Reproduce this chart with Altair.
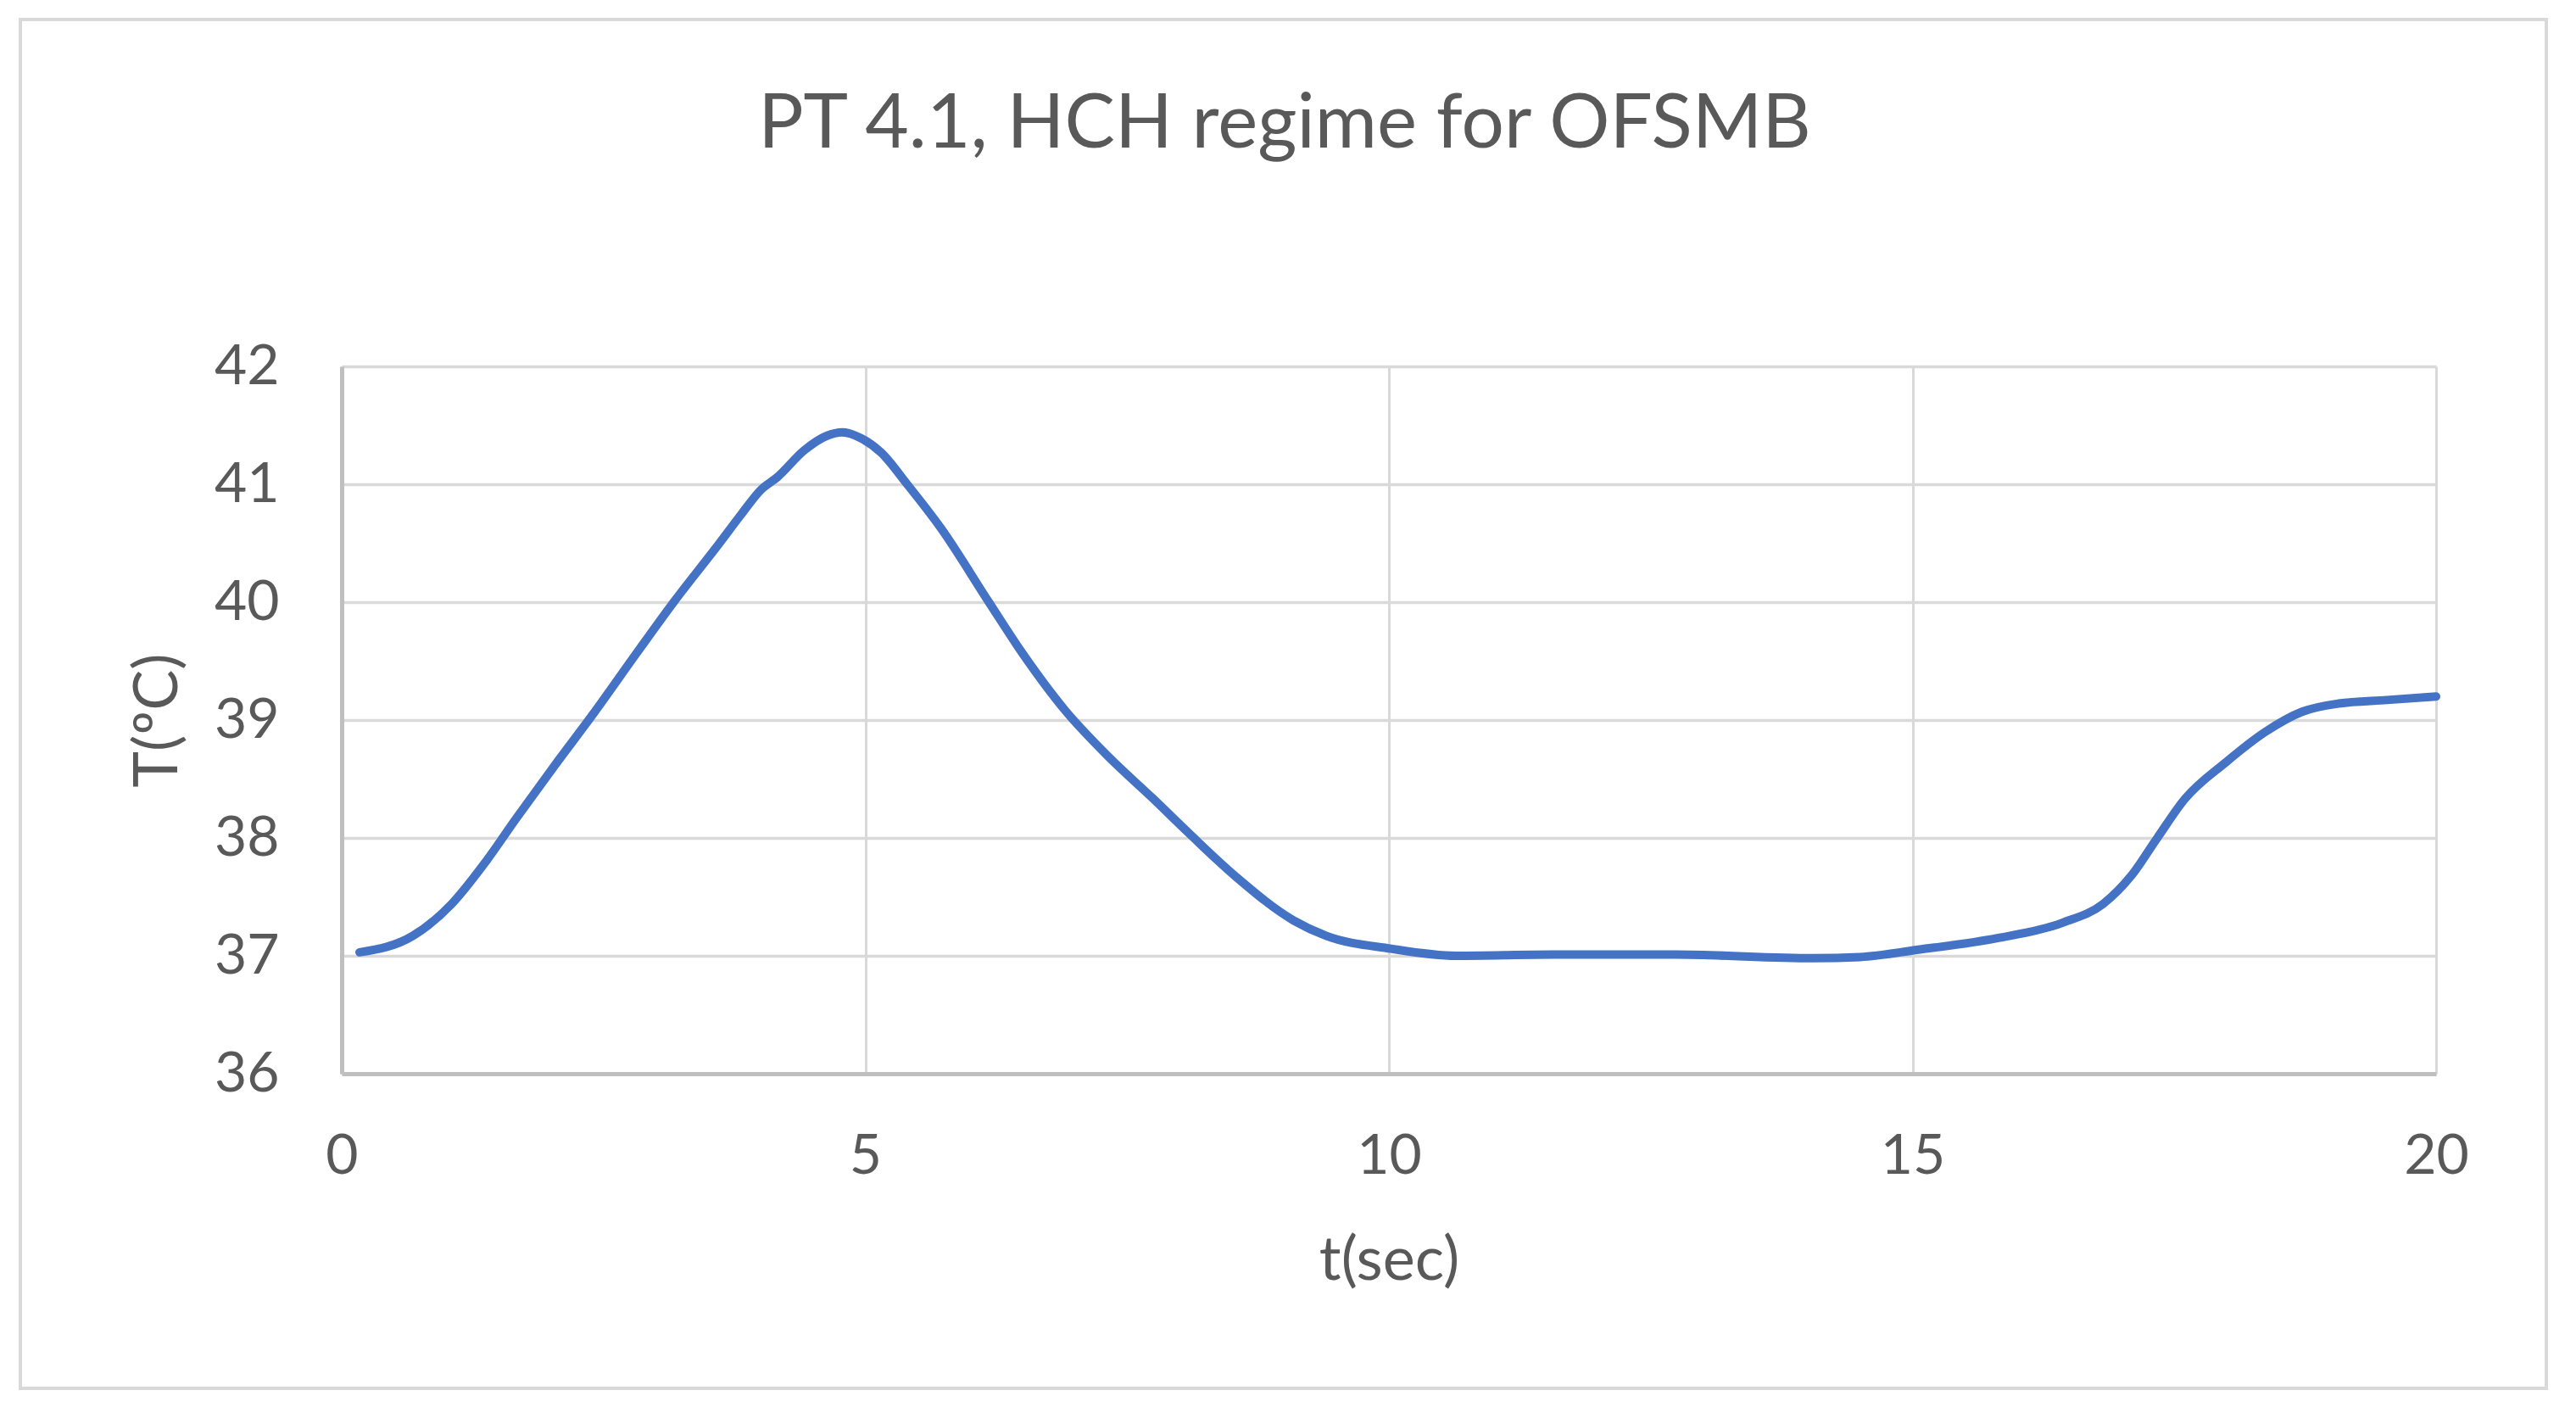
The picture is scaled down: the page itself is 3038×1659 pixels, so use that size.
import altair as alt
import pandas as pd

LINE_COLOUR = "#4472C4"
GRID_COLOUR = "#D9D9D9"
AXIS_COLOUR = "#BFBFBF"
TEXT_COLOUR = "#595959"
FONT = "Lato"

# values
t_sec = [0.17, 0.68, 1.05, 1.36, 1.67, 2.03, 2.40, 2.81, 3.17, 3.59, 3.82, 4.0,
         4.16, 4.42, 4.63, 4.78, 4.96, 5.15, 5.40, 5.72, 6.18, 6.49, 6.91, 7.32,
         7.74, 8.09, 8.54, 9.09, 9.40, 10.02, 10.64, 11.57, 12.73, 14.05, 14.5,
         15.04, 15.81, 16.43, 16.82, 17.09, 17.33, 17.60, 17.99, 18.37, 18.72,
         19.07, 19.53, 20.0]
temp_c = [37.03, 37.17, 37.44, 37.78, 38.17, 38.61, 39.05, 39.56, 40.0, 40.48,
          40.75, 40.95, 41.06, 41.29, 41.41, 41.44, 41.39, 41.27, 41.0, 40.63,
          40.0, 39.58, 39.08, 38.69, 38.34, 38.04, 37.67, 37.30, 37.17, 37.06,
          37.0, 37.01, 37.01, 36.98, 36.99, 37.05, 37.15, 37.28, 37.44, 37.68,
          37.99, 38.33, 38.64, 38.90, 39.07, 39.14, 39.17, 39.20]
x_ticks = [0, 5, 10, 15, 20]
y_ticks = [36, 37, 38, 39, 40, 41, 42]

df = pd.DataFrame({"t": t_sec, "T": temp_c})

PLOT_W, PLOT_H = 2470, 834
PAD = {"left": 395, "top": 424, "right": 157, "bottom": 385}

# light grey frame round the whole chart
frame = alt.Chart(df).mark_rect(
    fillOpacity=0, stroke=GRID_COLOUR, strokeWidth=4
).encode(
    x=alt.value(-379), x2=alt.value(PLOT_W + 130),
    y=alt.value(-409), y2=alt.value(PLOT_H + 371),
)

line = alt.Chart(df).mark_line(
    color=LINE_COLOUR, strokeWidth=10, interpolate="monotone", strokeCap="round"
).encode(
    x=alt.X("t:Q", title="t(sec)",
            scale=alt.Scale(domain=[0, 20], nice=False),
            axis=alt.Axis(values=x_ticks, labelPadding=97, labelBaseline="middle",
                          titleY=220, titleBaseline="middle")),
    y=alt.Y("T:Q", title="T(ºC)",
            scale=alt.Scale(domain=[36, 42], nice=False, zero=False),
            axis=alt.Axis(values=y_ticks, labelPadding=74,
                          titleX=-217, titleY=PLOT_H / 2, titleBaseline="middle")),
)

chart = alt.layer(frame, line).properties(
    width=PLOT_W,
    height=PLOT_H,
    autosize=alt.AutoSizeParams(type="none"),
    padding=PAD,
    title=alt.Title("PT 4.1, HCH regime for OFSMB", anchor="middle", frame="group",
                    dx=-123, offset=-242, baseline="alphabetic",
                    fontSize=89, font=FONT, fontWeight="normal", color=TEXT_COLOUR),
).configure_view(
    stroke=None
).configure_axis(
    grid=True,
    gridColor=GRID_COLOUR,
    gridWidth=3.5,
    domainColor=AXIS_COLOUR,
    domainWidth=5,
    ticks=False,
    labelFont=FONT,
    labelFontSize=66,
    labelColor=TEXT_COLOUR,
    titleFont=FONT,
    titleFontSize=72,
    titleFontWeight="normal",
    titleColor=TEXT_COLOUR,
    labelFlush=False,
    labelOverlap=False,
).configure_axisX(
    gridWidth=3,
)

chart.save("out.html", embed_options={"renderer": "svg", "actions": False})
